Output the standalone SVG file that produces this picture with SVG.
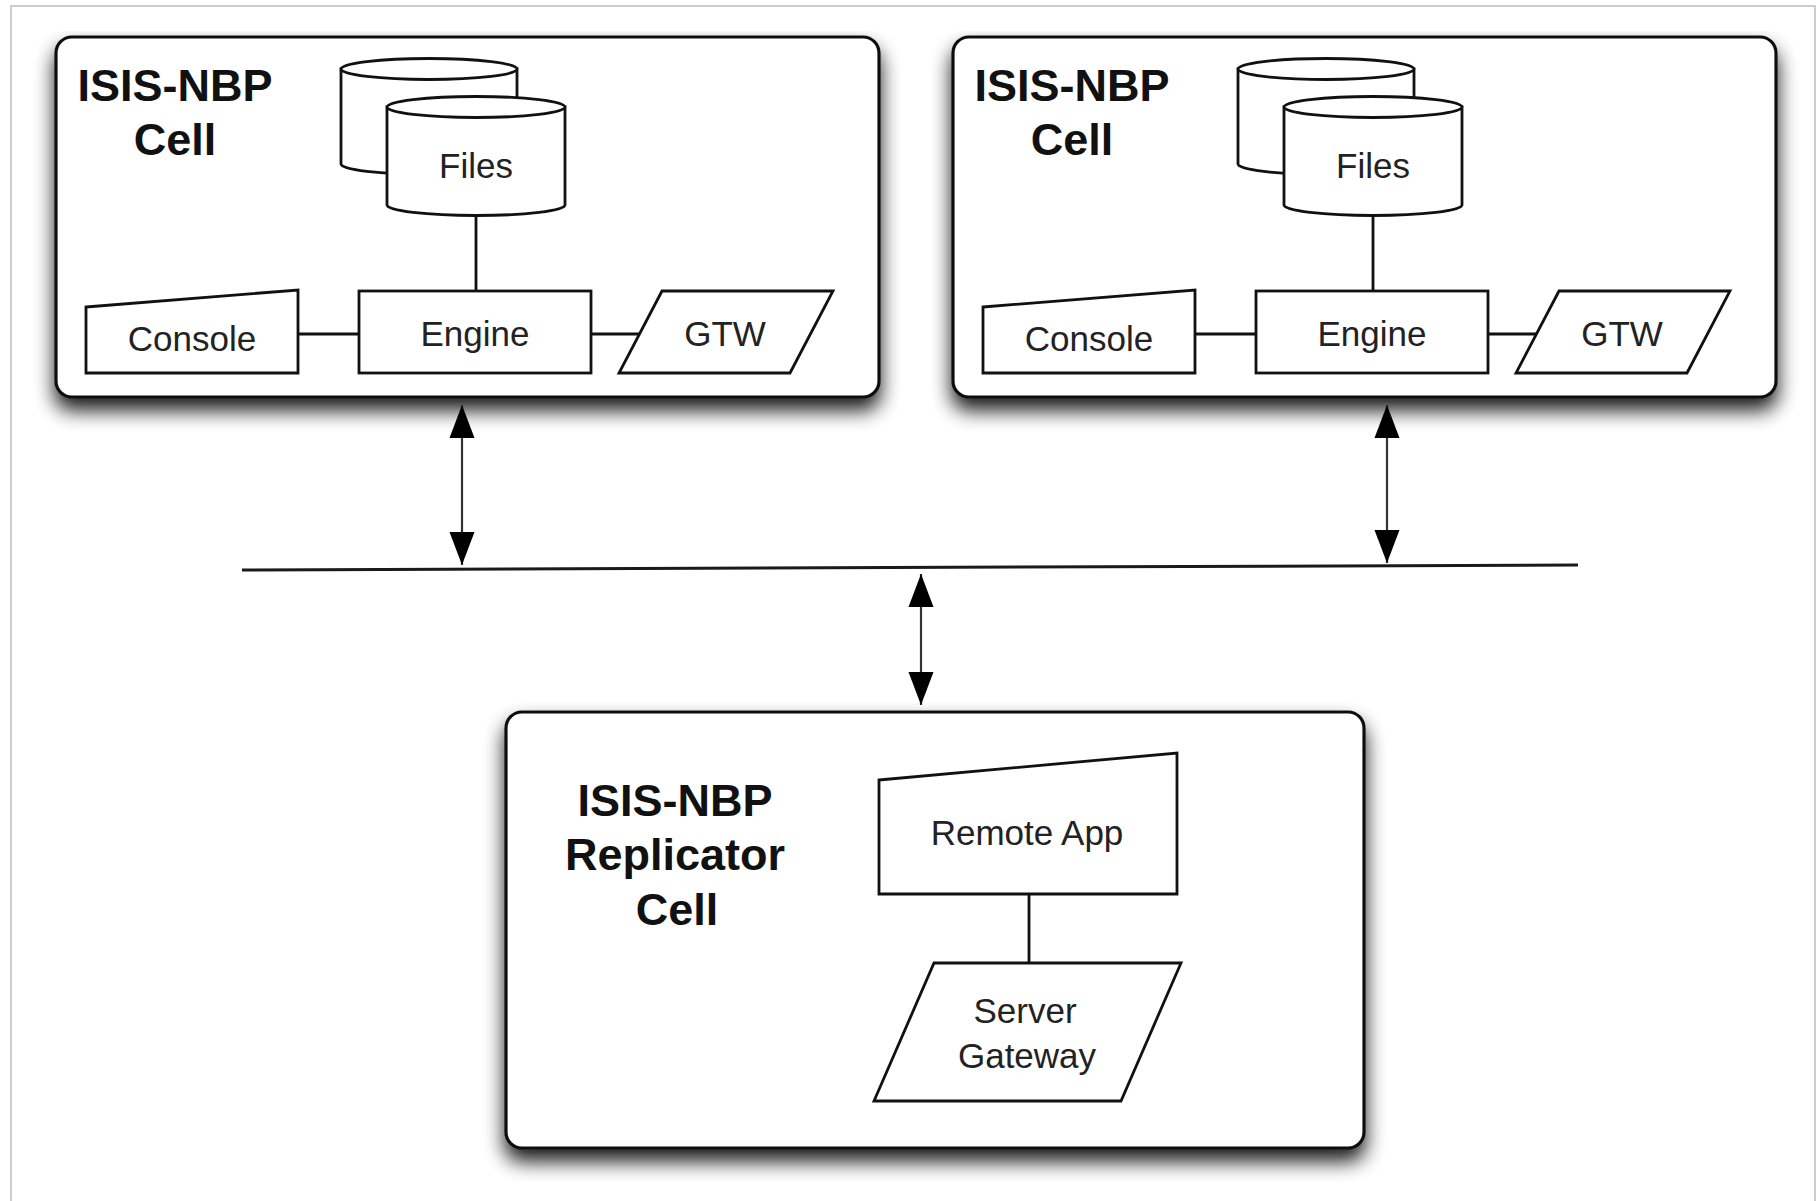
<svg xmlns="http://www.w3.org/2000/svg" width="1819" height="1201" viewBox="0 0 1819 1201">
  <defs>
    <filter id="shadow" x="-5%" y="-5%" width="110%" height="130%">
      <feGaussianBlur in="SourceAlpha" stdDeviation="10"/>
      <feOffset dx="0" dy="12" result="b"/>
      <feComponentTransfer><feFuncA type="linear" slope="0.9"/></feComponentTransfer>
      <feMerge><feMergeNode/><feMergeNode in="SourceGraphic"/></feMerge>
    </filter>
    <marker id="arrow" markerUnits="userSpaceOnUse" markerWidth="34" markerHeight="26" refX="33" refY="13" orient="auto-start-reverse">
      <path d="M0,0.5 L33,13 L0,25.5 Z" fill="#000"/>
    </marker>
    <style>
      .cell { fill: #fff; stroke: #111; stroke-width: 3.2; }
      .shape { fill: #fff; stroke: #111; stroke-width: 2.8; }
      .title { font-family: "Liberation Sans", Arial, sans-serif; font-weight: bold; font-size: 45px; fill: #111; text-anchor: middle; }
      .label { font-family: "Liberation Sans", Arial, sans-serif; font-size: 35px; fill: #222; text-anchor: middle; }
      .conn { stroke: #111; stroke-width: 2.8; fill: none; }
      .arr { stroke: #333; stroke-width: 2.2; fill: none; }
    </style>
  </defs>
  <rect x="0" y="0" width="1819" height="1201" fill="#fff"/>
  <path d="M11,1201 L11,6 L1815,6 L1815,1201" fill="none" stroke="#cccccc" stroke-width="2"/>

  <!-- Cells -->
  <g id="cell-left">
    <rect class="cell" x="56" y="37" width="823" height="360" rx="16" filter="url(#shadow)"/>
    <text class="title" x="175" y="101">ISIS-NBP</text>
    <text class="title" x="175" y="155">Cell</text>
  </g>
  <g id="cell-right">
    <rect class="cell" x="953" y="37" width="823" height="360" rx="16" filter="url(#shadow)"/>
    <text class="title" x="1072" y="101">ISIS-NBP</text>
    <text class="title" x="1072" y="155">Cell</text>
  </g>
  <g id="cell-replicator">
    <rect class="cell" x="506" y="712" width="858" height="436" rx="16" filter="url(#shadow)"/>
    <text class="title" x="675" y="816">ISIS-NBP</text>
    <text class="title" x="675" y="870">Replicator</text>
    <text class="title" x="677" y="925">Cell</text>
  </g>

  <!-- Connectors -->
  <g id="connectors">
    <line class="conn" x1="476" y1="216" x2="476" y2="291"/>
    <line class="conn" x1="298" y1="334" x2="359" y2="334"/>
    <line class="conn" x1="591" y1="334" x2="641" y2="334"/>
    <line class="conn" x1="1373" y1="216" x2="1373" y2="291"/>
    <line class="conn" x1="1195" y1="334" x2="1256" y2="334"/>
    <line class="conn" x1="1488" y1="334" x2="1538" y2="334"/>
    <line class="conn" x1="1029" y1="894" x2="1029" y2="963"/>
    <line id="bus" x1="242" y1="570" x2="1578" y2="565" stroke="#1a1a1a" stroke-width="3"/>
    <line class="arr" x1="462" y1="405" x2="462" y2="565" marker-start="url(#arrow)" marker-end="url(#arrow)"/>
    <line class="arr" x1="1387" y1="405" x2="1387" y2="563" marker-start="url(#arrow)" marker-end="url(#arrow)"/>
    <line class="arr" x1="921" y1="574" x2="921" y2="705" marker-start="url(#arrow)" marker-end="url(#arrow)"/>
  </g>

  <!-- Left cell nodes -->
  <g id="files-left">
    <path class="shape" d="M341,69 L341,164 A88,10.5 0 0 0 517,164 L517,69 Z"/>
    <ellipse class="shape" cx="429" cy="69" rx="88" ry="10.5"/>
    <path class="shape" d="M387,107 L387,205 A89,10.5 0 0 0 565,205 L565,107 Z"/>
    <ellipse class="shape" cx="476" cy="107" rx="89" ry="10.5"/>
    <text class="label" x="476" y="178">Files</text>
  </g>
  <g id="console-left">
    <polygon class="shape" points="86,307 298,290 298,373 86,373"/>
    <text class="label" x="192" y="351">Console</text>
  </g>
  <g id="engine-left">
    <rect class="shape" x="359" y="291" width="232" height="82"/>
    <text class="label" x="475" y="346">Engine</text>
  </g>
  <g id="gtw-left">
    <polygon class="shape" points="662,291 833,291 790,373 619,373"/>
    <text class="label" x="725" y="346">GTW</text>
  </g>

  <!-- Right cell nodes -->
  <g id="files-right">
    <path class="shape" d="M1238,69 L1238,164 A88,10.5 0 0 0 1414,164 L1414,69 Z"/>
    <ellipse class="shape" cx="1326" cy="69" rx="88" ry="10.5"/>
    <path class="shape" d="M1284,107 L1284,205 A89,10.5 0 0 0 1462,205 L1462,107 Z"/>
    <ellipse class="shape" cx="1373" cy="107" rx="89" ry="10.5"/>
    <text class="label" x="1373" y="178">Files</text>
  </g>
  <g id="console-right">
    <polygon class="shape" points="983,307 1195,290 1195,373 983,373"/>
    <text class="label" x="1089" y="351">Console</text>
  </g>
  <g id="engine-right">
    <rect class="shape" x="1256" y="291" width="232" height="82"/>
    <text class="label" x="1372" y="346">Engine</text>
  </g>
  <g id="gtw-right">
    <polygon class="shape" points="1559,291 1730,291 1687,373 1516,373"/>
    <text class="label" x="1622" y="346">GTW</text>
  </g>

  <!-- Replicator nodes -->
  <g id="remote-app">
    <polygon class="shape" points="879,780 1177,753 1177,894 879,894"/>
    <text class="label" x="1027" y="845">Remote App</text>
  </g>
  <g id="server-gateway">
    <polygon class="shape" points="934,963 1181,963 1121,1101 874,1101"/>
    <text class="label" x="1025" y="1023">Server</text>
    <text class="label" x="1027" y="1068">Gateway</text>
  </g>
</svg>
